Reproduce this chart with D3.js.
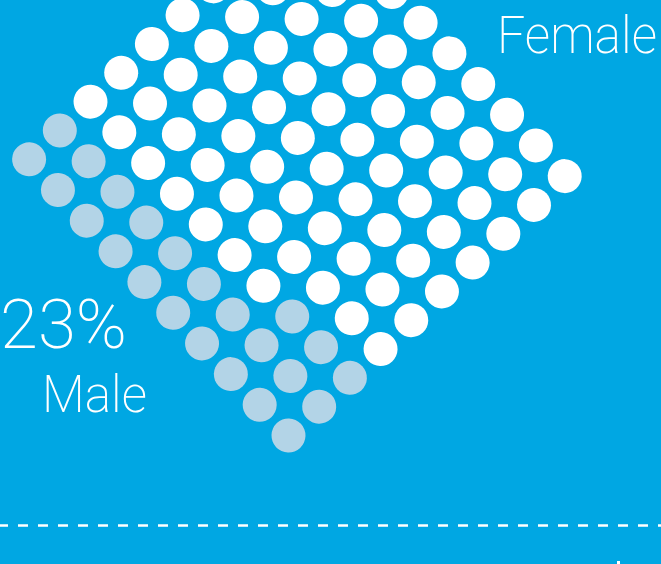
<!DOCTYPE html>
<html>
<head>
<meta charset="utf-8">
<script src="https://cdn.jsdelivr.net/npm/d3@7"></script>
<style>
  html, body { margin: 0; padding: 0; background: #00A7E3; overflow: hidden; }
  svg { display: block; }
  text { font-family: "Roboto", "Liberation Sans", sans-serif; fill: #ffffff; }
</style>
</head>
<body>
<script>
// ---- data ----
const categories = ["Male", "Female"];
const percentages = [23, 77];
const labelPercent = "23%";
const gridSize = 10; // 10 x 10 = 100 dots

// ---- layout ----
const W = 661, H = 564;
const svg = d3.select("body").append("svg").attr("width", W).attr("height", H);
svg.append("rect").attr("width", W).attr("height", H).attr("fill", "#00A7E3");

const color = d3.scaleOrdinal().domain(categories).range(["#B3D4E7", "#ffffff"]);

// build cells from data
const cells = [];
let k = 0;
categories.forEach((c, ci) => {
  for (let n = 0; n < percentages[ci]; n++, k++) {
    cells.push({ cat: c, i: Math.floor(k / gridSize), j: k % gridSize });
  }
});

const step = 42.1;
const pos = d3.scaleLinear().domain([0, gridSize - 1]).range([0, (gridSize - 1) * step]);

const grid = svg.append("g")
  .attr("transform", "translate(288.5,435.5) rotate(-43.2)");

grid.selectAll("circle").data(cells).join("circle")
  .attr("cx", d => pos(d.i))
  .attr("cy", d => -pos(d.j))
  .attr("r", 17)
  .attr("fill", d => color(d.cat));

// ---- labels ----
svg.append("text")
  .attr("x", 497).attr("y", 53)
  .attr("font-size", 51).attr("font-weight", 200)
  .attr("textLength", 160).attr("lengthAdjust", "spacingAndGlyphs")
  .text(categories[1]);

svg.append("text")
  .attr("x", 0).attr("y", 348)
  .attr("font-size", 68).attr("font-weight", 200)
  .attr("textLength", 127).attr("lengthAdjust", "spacingAndGlyphs")
  .text(labelPercent);

svg.append("text")
  .attr("x", 42).attr("y", 412)
  .attr("font-size", 52).attr("font-weight", 200)
  .attr("textLength", 105).attr("lengthAdjust", "spacingAndGlyphs")
  .text(categories[0]);

// ---- dashed separator ----
svg.append("line")
  .attr("x1", -2).attr("x2", W)
  .attr("y1", 525.5).attr("y2", 525.5)
  .attr("stroke", "#ffffff")
  .attr("stroke-width", 2.5)
  .attr("stroke-dasharray", "10,10");

// tip of a cut-off glyph from the next section at the bottom edge
svg.append("rect")
  .attr("x", 617).attr("y", 561)
  .attr("width", 3).attr("height", 3)
  .attr("fill", "#ffffff");
</script>
</body>
</html>
